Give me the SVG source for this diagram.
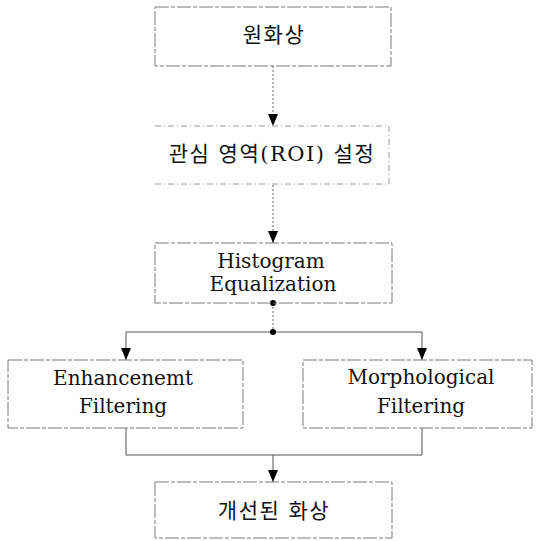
<svg xmlns="http://www.w3.org/2000/svg" width="538" height="541" viewBox="0 0 538 541">
<style>
.box{fill:none;stroke:#7a7a7a;stroke-width:1;stroke-dasharray:14 2 4 2}
.faint{fill:none;stroke:#9a9a9a;stroke-width:1;stroke-dasharray:6 3 1 3}
.con{fill:none;stroke:#555;stroke-width:1}
.dot{fill:none;stroke:#666;stroke-width:1;stroke-dasharray:2 2}
.en{font-family:"DejaVu Serif","Liberation Serif",serif;font-size:20px;fill:#111;text-anchor:middle}
.ko{font-family:"DejaVu Serif","Noto Sans CJK KR",serif;font-size:21px;fill:#111;text-anchor:middle;letter-spacing:1.5px}
</style>
<defs>
<marker id="ah" viewBox="0 0 12 10" refX="12" refY="5" markerWidth="12" markerHeight="10" markerUnits="userSpaceOnUse" orient="auto-start-reverse">
<path d="M0,0 L12,5 L0,10 Z" fill="#000"/>
</marker>
</defs>
<g id="connectors">
<line class="dot" x1="273" y1="66" x2="273" y2="126" marker-end="url(#ah)"/>
<line class="dot" x1="273" y1="185" x2="273" y2="243" marker-end="url(#ah)"/>
<line class="dot" x1="273" y1="303" x2="273" y2="332"/>
<polyline class="con" points="126,360 126,332 422,332 422,360" marker-start="url(#ah)" marker-end="url(#ah)"/>
<polyline class="con" points="126,428 126,455 422,455 422,428"/>
<line class="con" x1="273" y1="455" x2="273" y2="482" marker-end="url(#ah)"/>
<circle cx="273" cy="303" r="3" fill="#000"/>
<circle cx="273" cy="332" r="3" fill="#000"/>
</g>
<g id="n1">
<rect class="box" x="155" y="7" width="236" height="59"/>
<text class="ko" x="274" y="42">원화상</text>
</g>
<g id="n2">
<line class="faint" x1="155" y1="126" x2="389" y2="126"/>
<line class="faint" x1="155" y1="184" x2="389" y2="184"/>
<line class="faint" x1="389" y1="126" x2="389" y2="184"/>
<text class="ko" x="272" y="161">관심 영역(ROI) 설정</text>
</g>
<g id="n3">
<rect class="box" x="155" y="243" width="237" height="60"/>
<text class="en" x="271" y="268">Histogram</text>
<text class="en" x="273" y="291">Equalization</text>
</g>
<g id="n4">
<rect class="box" x="8" y="360" width="235" height="68"/>
<text class="en" x="123" y="385">Enhancenemt</text>
<text class="en" x="123" y="413">Filtering</text>
</g>
<g id="n5">
<rect class="box" x="303" y="360" width="229" height="68"/>
<text class="en" x="421" y="384">Morphological</text>
<text class="en" x="421" y="413">Filtering</text>
</g>
<g id="n6">
<rect class="box" x="155" y="482" width="237" height="56"/>
<text class="ko" x="274" y="518">개선된 화상</text>
</g>
</svg>
